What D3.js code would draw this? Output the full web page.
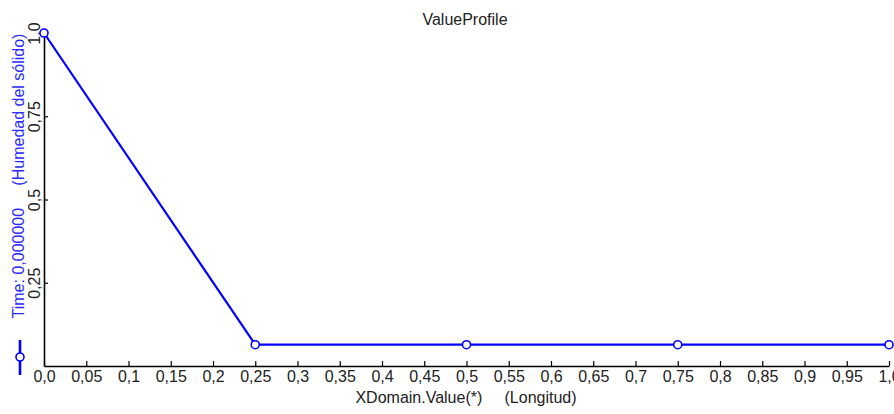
<!DOCTYPE html>
<html>
<head>
<meta charset="utf-8">
<script src="https://cdn.jsdelivr.net/npm/d3@7"></script>
<style>
  html, body { margin: 0; padding: 0; background: #fff; overflow: hidden; }
  svg { display: block; font-family: "Liberation Sans", Arial, sans-serif; }
</style>
</head>
<body>
<svg id="chart" width="894" height="414"></svg>
<script>
// Profile samples along the domain
const xValues = [0, 0.25, 0.5, 0.75, 1.0];
const yValues = [1.0, 0.064, 0.064, 0.064, 0.064];

// Axis ticks and their labels
const xTicks = [0, 0.05, 0.1, 0.15, 0.2, 0.25, 0.3, 0.35, 0.4, 0.45, 0.5,
                0.55, 0.6, 0.65, 0.7, 0.75, 0.8, 0.85, 0.9, 0.95, 1.0];
const xTickLabels = ["0,0", "0,05", "0,1", "0,15", "0,2", "0,25", "0,3", "0,35", "0,4", "0,45", "0,5",
                     "0,55", "0,6", "0,65", "0,7", "0,75", "0,8", "0,85", "0,9", "0,95", "1,0"];
const yTicks = [0.25, 0.5, 0.75, 1.0];
const yTickLabels = ["0,25", "0,5", "0,75", "1,0"];

const chartTitle = "ValueProfile";
const xTitle = "XDomain.Value(*)     (Longitud)";
const yTitle = "Time: 0,000000     (Humedad del sólido)";

const svg = d3.select("#chart");
const plotLeft = 44, plotRight = 889, plotTop = 33, plotBottom = 366;

const x = d3.scaleLinear().domain([0, 1]).range([plotLeft, plotRight]);
const y = d3.scaleLinear().domain([0, 1]).range([plotBottom, plotTop]);

const textColor = "#222";
const lineColor = "#0000ff";

// Bottom axis, ticks pointing into the plot
const xAxis = d3.axisBottom(x)
  .tickValues(xTicks)
  .tickFormat((d, i) => xTickLabels[i])
  .tickSizeInner(-5)
  .tickSizeOuter(0)
  .tickPadding(5);

const gx = svg.append("g")
  .attr("transform", `translate(0,${plotBottom})`)
  .call(xAxis);
gx.select(".domain").attr("stroke", "#000").attr("stroke-width", 1.6);
gx.selectAll(".tick line").attr("stroke", "#000").attr("stroke-width", 1.2);
gx.selectAll(".tick text")
  .attr("fill", textColor)
  .style("font-size", "16px")
  .style("font-family", "'Liberation Sans', Arial, sans-serif");

// Left axis, ticks pointing into the plot, labels rotated
const yAxis = d3.axisLeft(y)
  .tickValues(yTicks)
  .tickFormat((d, i) => yTickLabels[i])
  .tickSizeInner(-4)
  .tickSizeOuter(0);

const gy = svg.append("g")
  .attr("transform", `translate(${plotLeft},0)`)
  .call(yAxis);
gy.select(".domain").attr("stroke", "#000").attr("stroke-width", 1.6);
gy.selectAll(".tick line").attr("stroke", "#000").attr("stroke-width", 1.2);
gy.selectAll(".tick text")
  .attr("fill", textColor)
  .attr("x", 0)
  .attr("y", -4)
  .attr("dy", null)
  .attr("text-anchor", "middle")
  .attr("transform", "rotate(-90)")
  .style("font-size", "16px")
  .style("font-family", "'Liberation Sans', Arial, sans-serif");

// Profile line with open circle markers
const pts = xValues.map((v, i) => [v, yValues[i]]);
const line = d3.line().x(d => x(d[0])).y(d => y(d[1]));

svg.append("path")
  .datum(pts)
  .attr("fill", "none")
  .attr("stroke", lineColor)
  .attr("stroke-width", 2.2)
  .attr("d", line);

svg.append("g")
  .selectAll("circle")
  .data(pts)
  .join("circle")
  .attr("cx", d => x(d[0]))
  .attr("cy", d => y(d[1]))
  .attr("r", 4)
  .attr("fill", "#fff")
  .attr("stroke", lineColor)
  .attr("stroke-width", 1.6);

// Title
svg.append("text")
  .attr("x", 465)
  .attr("y", 25)
  .attr("text-anchor", "middle")
  .attr("fill", textColor)
  .style("font-size", "16px")
  .text(chartTitle);

// X axis title
svg.append("text")
  .attr("x", 466)
  .attr("y", 403)
  .attr("text-anchor", "middle")
  .attr("fill", textColor)
  .style("font-size", "16px")
  .style("white-space", "pre")
  .attr("xml:space", "preserve")
  .text(xTitle);

// Y axis title (series label), rotated
svg.append("text")
  .attr("transform", "translate(24,176) rotate(-90)")
  .attr("text-anchor", "middle")
  .attr("fill", "#2a2aff")
  .style("font-size", "16px")
  .style("white-space", "pre")
  .attr("xml:space", "preserve")
  .text(yTitle);

// Series legend glyph: short line with an open circle
const legendX = 20;
svg.append("line")
  .attr("x1", legendX).attr("x2", legendX)
  .attr("y1", 340).attr("y2", 375)
  .attr("stroke", lineColor)
  .attr("stroke-width", 2.6);
svg.append("circle")
  .attr("cx", legendX)
  .attr("cy", 357)
  .attr("r", 4)
  .attr("fill", "#fff")
  .attr("stroke", lineColor)
  .attr("stroke-width", 1.6);
</script>
</body>
</html>
